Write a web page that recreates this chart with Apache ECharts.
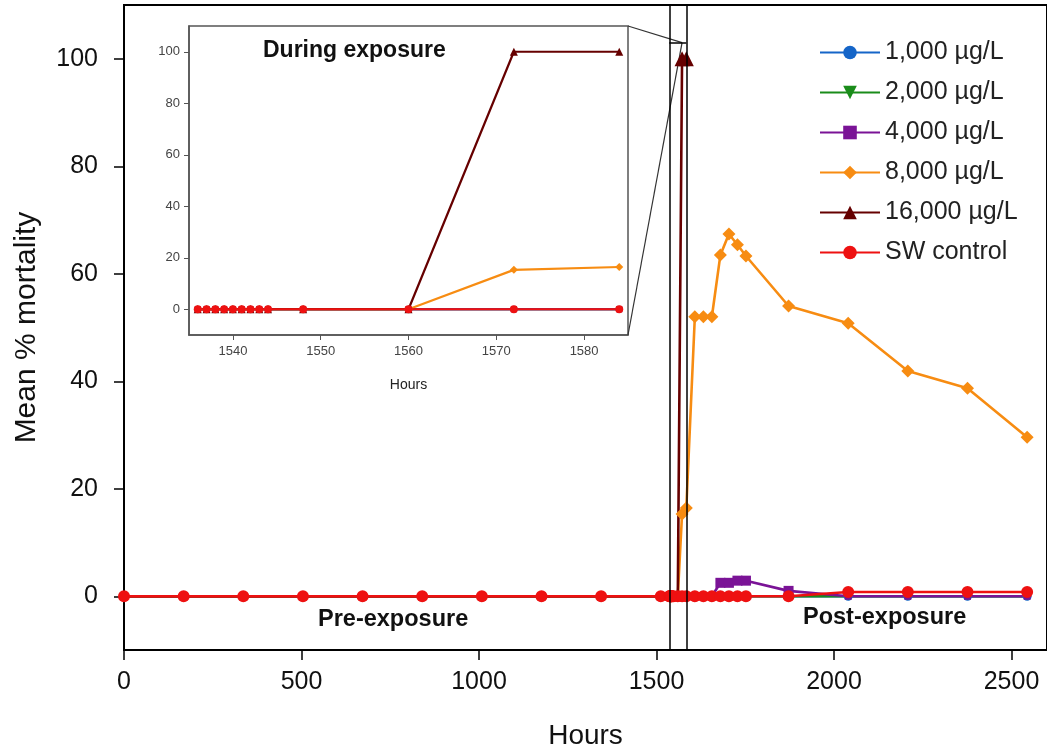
<!DOCTYPE html>
<html>
<head>
<meta charset="utf-8">
<script src="https://cdn.jsdelivr.net/npm/echarts@6/dist/echarts.min.js"></script>
<style>
  html, body { margin: 0; padding: 0; background: #fff; }
  #chart { width: 1047px; height: 755px; }
</style>
</head>
<body>
<div id="chart"></div>
<script>
// sampling times (hours)
const hours = [0, 168, 336, 504, 672, 840, 1008, 1176, 1344, 1512,
  1536, 1537, 1538, 1539, 1540, 1541, 1542, 1543, 1544, 1548, 1560, 1572, 1584,
  1608, 1632, 1656, 1680, 1704, 1728, 1752, 1872, 2040, 2208, 2376, 2544]

// mean % mortality per treatment
const mort1000 = [0, 0, 0, 0, 0, 0, 0, 0, 0, 0,
  0, 0, 0, 0, 0, 0, 0, 0, 0, 0, 0, 0, 0,
  0, 0, 0, 0, 0, 0, 0, 0, 0, 0, 0, 0]
const mort2000 = [0, 0, 0, 0, 0, 0, 0, 0, 0, 0,
  0, 0, 0, 0, 0, 0, 0, 0, 0, 0, 0, 0, 0,
  0, 0, 0, 0, 0, 0, 0, 0, 0, 0, 0, 0]
const mort4000 = [0, 0, 0, 0, 0, 0, 0, 0, 0, 0,
  0, 0, 0, 0, 0, 0, 0, 0, 0, 0, 0, 0, 0,
  0, 0, 0, 2.5, 2.5, 2.9, 2.9, 1.0, 0, 0, 0, 0]
const mort8000 = [0, 0, 0, 0, 0, 0, 0, 0, 0, 0,
  0, 0, 0, 0, 0, 0, 0, 0, 0, 0, 0, 15.3, 16.4,
  52, 52, 52, 63.5, 67.4, 65.4, 63.3, 54.0, 50.8, 41.9, 38.7, 29.6]
const mort16000 = [0, 0, 0, 0, 0, 0, 0, 0, 0, 0,
  0, 0, 0, 0, 0, 0, 0, 0, 0, 0, 0, 100, 100,
  null, null, null, null, null, null, null, null, null, null, null, null]
const swControl = [0, 0, 0, 0, 0, 0, 0, 0, 0, 0,
  0, 0, 0, 0, 0, 0, 0, 0, 0, 0, 0, 0, 0,
  0, 0, 0, 0, 0, 0, 0, 0, 0.8, 0.8, 0.8, 0.8]

const yTicks = [0, 20, 40, 60, 80, 100]
const insetXTicks = [1540, 1550, 1560, 1570, 1580]
const exposureStart = 1536
const exposureEnd = 1584

// marker size: small where the point sits under the control markers at 0
const sized = (big, small) => v => (v[1] > 0.5 ? big : small)

const treatments = [
  { name: '1,000 µg/L', data: mort1000, color: '#1565c8', symbol: 'circle', size: sized(11, 9), inset: 7, rotate: 0 },
  { name: '2,000 µg/L', data: mort2000, color: '#1a8c1a', symbol: 'triangle', size: sized(12, 8), inset: 6, rotate: 180 },
  { name: '4,000 µg/L', data: mort4000, color: '#7a1396', symbol: 'rect', size: sized(10, 7), inset: 6, rotate: 0 },
  { name: '8,000 µg/L', data: mort8000, color: '#f78c12', symbol: 'diamond', size: sized(13, 9), inset: 8, rotate: 0 },
  { name: '16,000 µg/L', data: mort16000, color: '#660000', symbol: 'triangle', size: sized(15, 8), inset: 8, rotate: 0 },
  { name: 'SW control', data: swControl, color: '#ee1111', symbol: 'circle', size: 12, inset: 8, rotate: 0 },
]

const font = 'Liberation Sans, Arial, sans-serif'
const plain = v => String(v)
const chart = echarts.init(document.getElementById('chart'))

const mainSeries = treatments.map(t => ({
  name: t.name,
  type: 'line',
  xAxisIndex: 0,
  yAxisIndex: 0,
  data: hours.map((h, i) => [h, t.data[i]]),
  symbol: t.symbol,
  symbolSize: t.size,
  symbolRotate: t.rotate,
  showAllSymbol: true,
  connectNulls: false,
  color: t.color,
  lineStyle: { width: 2.6, color: t.color },
  itemStyle: { color: t.color },
  animation: false,
}))

const insetSeries = treatments.map(t => ({
  name: t.name,
  type: 'line',
  xAxisIndex: 1,
  yAxisIndex: 1,
  data: hours.map((h, i) => [h, t.data[i]])
    .filter(d => d[0] >= exposureStart && d[0] <= exposureEnd),
  symbol: t.symbol,
  symbolSize: t.inset,
  symbolRotate: t.rotate,
  showAllSymbol: true,
  color: t.color,
  lineStyle: { width: 2.2, color: t.color },
  itemStyle: { color: t.color },
  animation: false,
}))

// exposure window lines
mainSeries[5].markLine = {
  silent: true,
  symbol: 'none',
  label: { show: false },
  lineStyle: { color: '#000', width: 1.5, type: 'solid' },
  data: [
    { xAxis: exposureStart },
    { xAxis: exposureEnd },
    [{ coord: [exposureStart, 103] }, { coord: [exposureEnd, 103] }],
  ],
}

const option = {
  backgroundColor: '#fff',
  animation: false,
  textStyle: { fontFamily: font },
  legend: {
    data: treatments.map(t => t.name),
    orient: 'vertical',
    left: 814,
    top: 35,
    itemWidth: 60,
    itemHeight: 17,
    itemGap: 15,
    textStyle: { fontSize: 25, color: '#222', fontFamily: font },
  },
  grid: [
    {
      left: 124, top: 5, width: 924, height: 648,
      show: true, borderColor: '#000', borderWidth: 2,
    },
    {
      left: 189, top: 26, width: 439, height: 309,
      show: true, borderColor: '#555', borderWidth: 1.5, backgroundColor: '#fff',
    },
  ],
  xAxis: [
    {
      gridIndex: 0,
      type: 'value',
      min: 0, max: 2600, interval: 500,
      name: 'Hours',
      nameLocation: 'middle',
      nameGap: 72,
      nameTextStyle: { fontSize: 28, color: '#111' },
      splitLine: { show: false },
      axisLine: { onZero: false, lineStyle: { color: '#000', width: 2 } },
      axisTick: { show: true, length: 10, lineStyle: { color: '#000', width: 1.5 } },
      axisLabel: { fontSize: 25, color: '#111', margin: 20, showMaxLabel: false, formatter: plain },
    },
    {
      gridIndex: 1,
      type: 'value',
      min: 1535, max: 1585,
      name: 'Hours',
      nameLocation: 'middle',
      nameGap: 43,
      nameTextStyle: { fontSize: 14, color: '#222' },
      splitLine: { show: false },
      axisLine: { onZero: false, lineStyle: { color: '#555', width: 1.5 } },
      axisTick: { show: true, length: 5, customValues: insetXTicks, lineStyle: { color: '#555' } },
      axisLabel: { fontSize: 13, color: '#444', margin: 10, customValues: insetXTicks, formatter: plain },
    },
  ],
  yAxis: [
    {
      gridIndex: 0,
      type: 'value',
      min: -10, max: 110,
      name: 'Mean % mortality',
      nameLocation: 'middle',
      nameGap: 82,
      nameTextStyle: { fontSize: 30, color: '#111' },
      splitLine: { show: false },
      axisLine: { onZero: false, lineStyle: { color: '#000', width: 2 } },
      axisTick: { show: true, length: 10, customValues: yTicks, lineStyle: { color: '#000', width: 1.5 } },
      axisLabel: { fontSize: 25, color: '#111', margin: 26, customValues: yTicks, formatter: plain },
    },
    {
      gridIndex: 1,
      type: 'value',
      min: -10, max: 110,
      splitLine: { show: false },
      axisLine: { onZero: false, lineStyle: { color: '#555', width: 1.5 } },
      axisTick: { show: true, length: 5, customValues: yTicks, lineStyle: { color: '#555' } },
      axisLabel: { fontSize: 13, color: '#444', margin: 9, customValues: yTicks, formatter: plain },
    },
  ],
  series: mainSeries.concat(insetSeries),
}

chart.setOption(option)

// zoom connector lines from the inset to the exposure window
const insetTop = chart.convertToPixel({ gridIndex: 1 }, [1585, 110])
const insetBottom = chart.convertToPixel({ gridIndex: 1 }, [1585, -10])
const apex = chart.convertToPixel({ gridIndex: 0 }, [1572, 103])

chart.setOption({
  graphic: [
    {
      type: 'line', silent: true, z: 1,
      shape: { x1: insetTop[0], y1: insetTop[1], x2: apex[0], y2: apex[1] },
      style: { stroke: '#333', lineWidth: 1.2 },
    },
    {
      type: 'line', silent: true, z: 1,
      shape: { x1: insetBottom[0], y1: insetBottom[1], x2: apex[0], y2: apex[1] },
      style: { stroke: '#333', lineWidth: 1.2 },
    },
    {
      type: 'text', left: 263, top: 39, z: 10,
      style: { text: 'During exposure', font: 'bold 23px ' + font, fill: '#111' },
    },
    {
      type: 'text', left: 318, top: 608, z: 10,
      style: { text: 'Pre-exposure', font: 'bold 23.5px ' + font, fill: '#111' },
    },
    {
      type: 'text', left: 803, top: 606, z: 10,
      style: { text: 'Post-exposure', font: 'bold 23.5px ' + font, fill: '#111' },
    },
  ],
})
</script>
</body>
</html>
